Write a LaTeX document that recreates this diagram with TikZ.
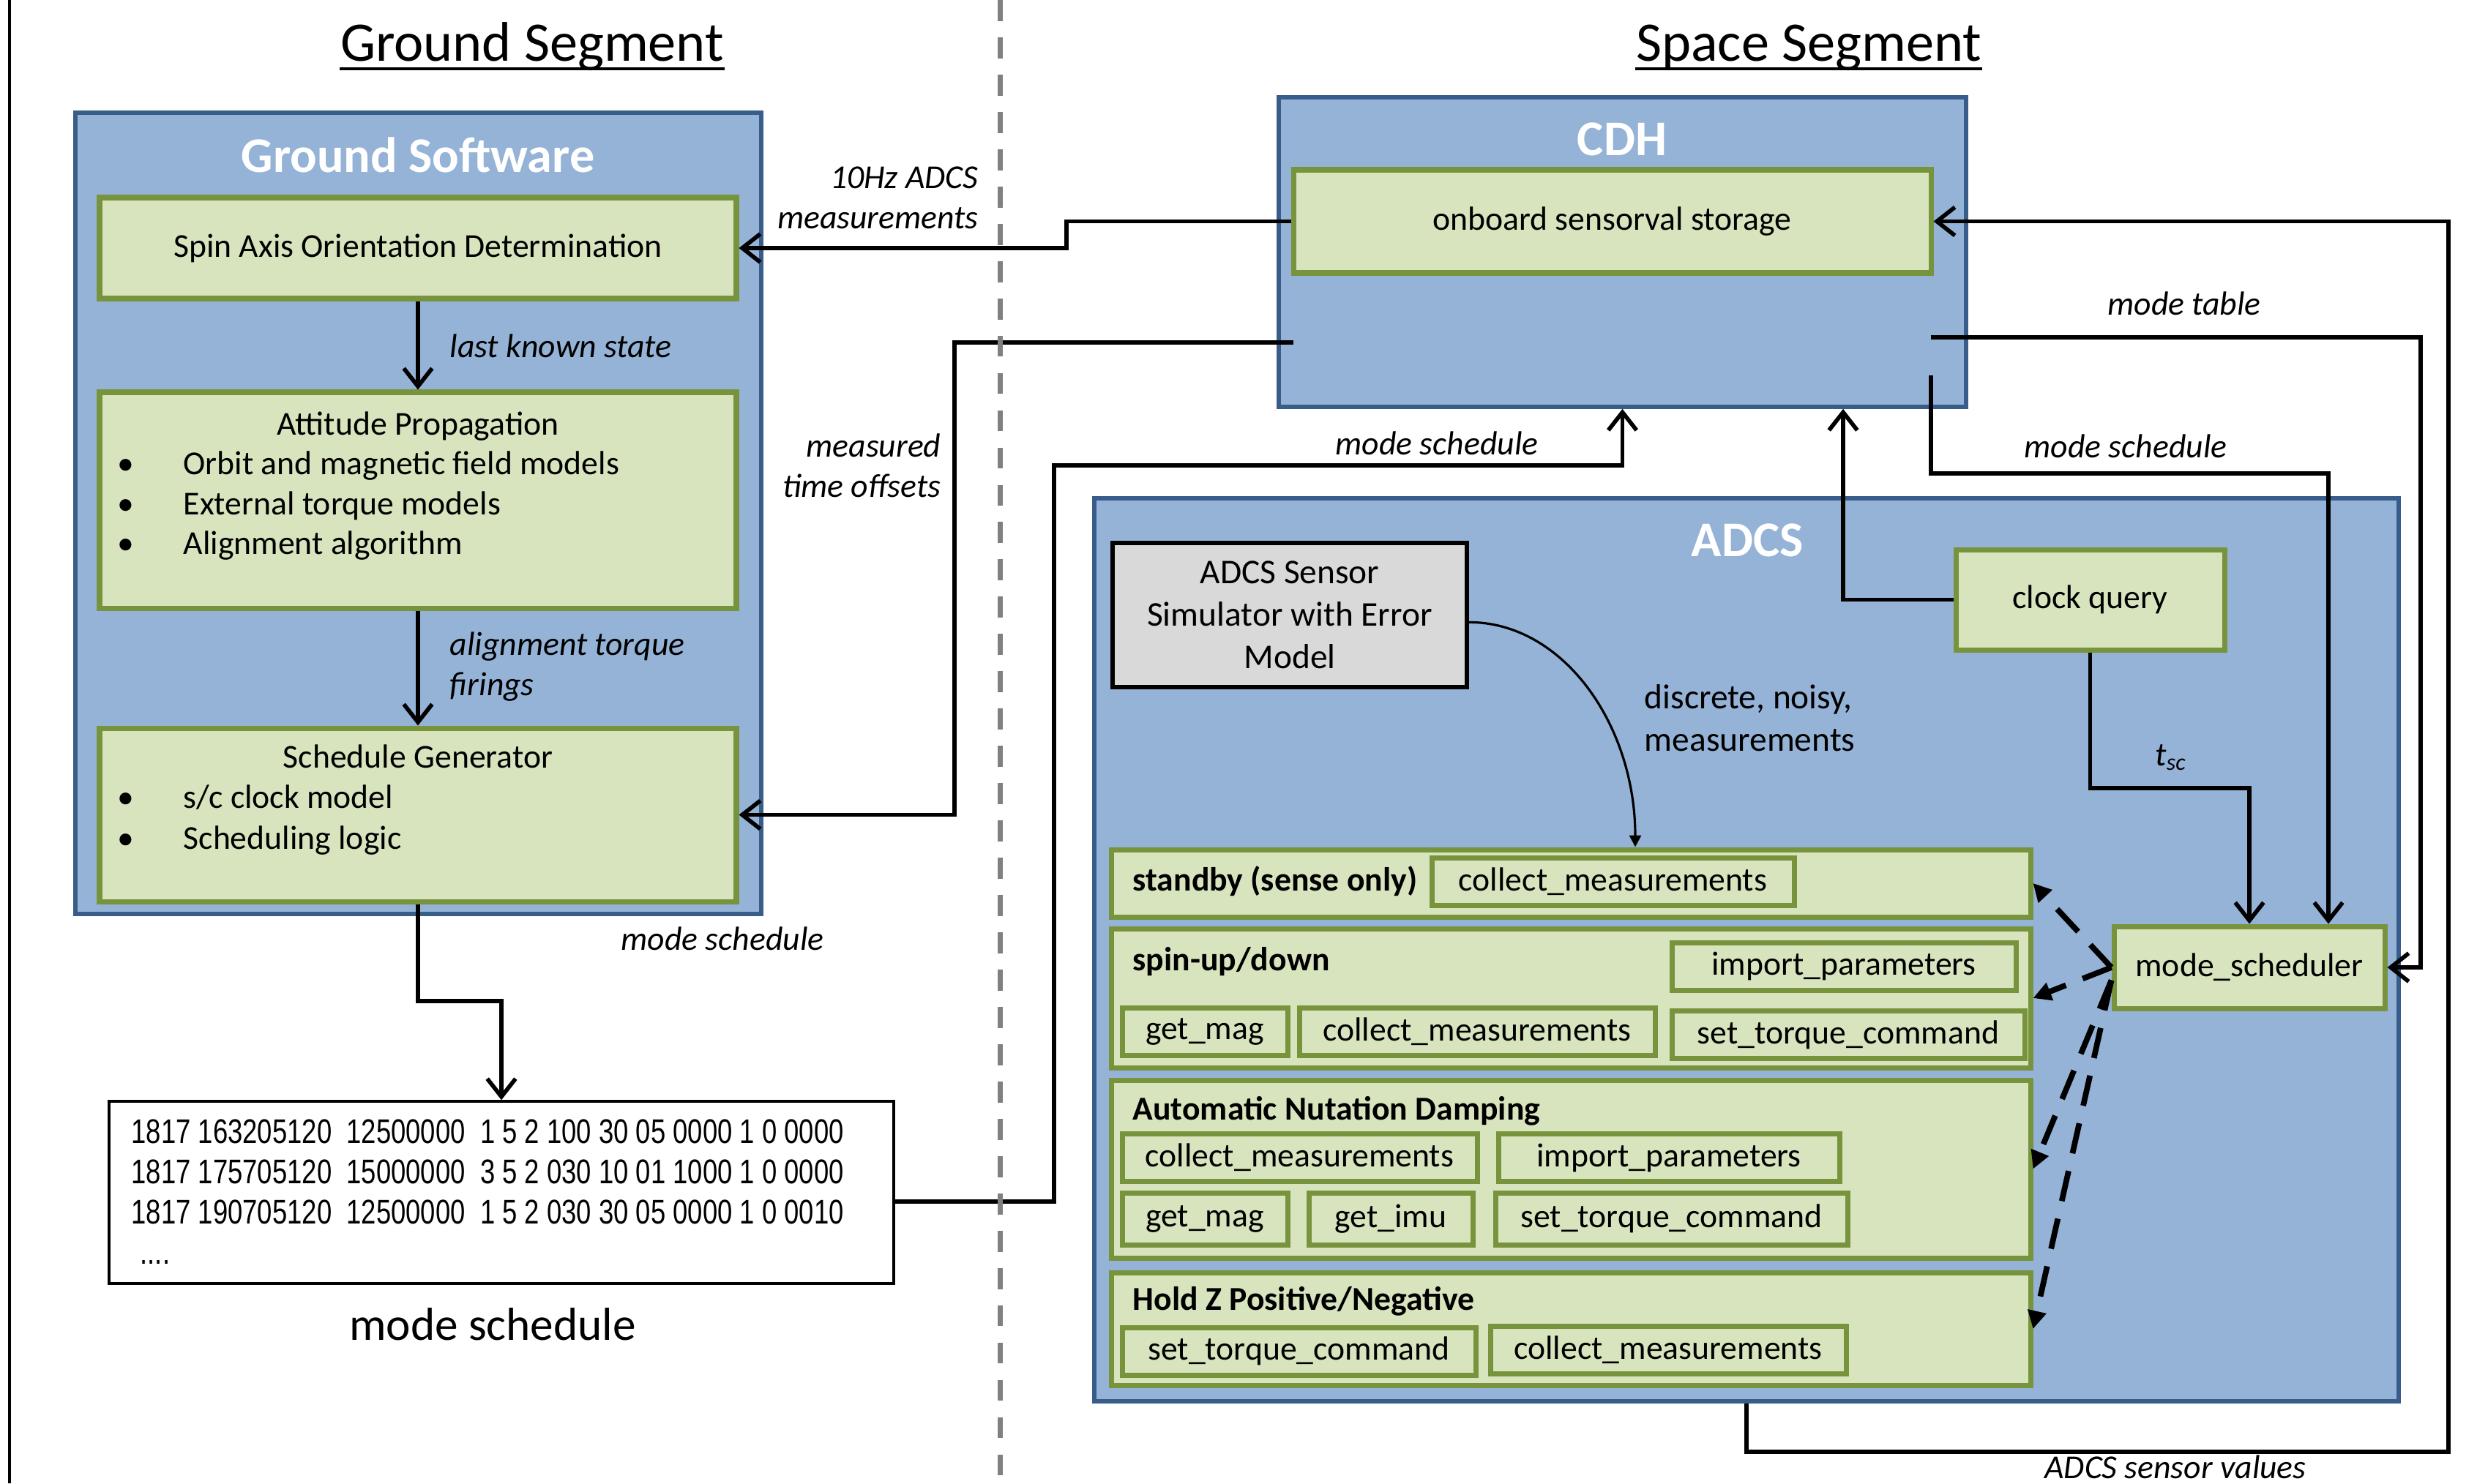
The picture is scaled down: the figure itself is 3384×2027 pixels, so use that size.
\documentclass[tikz,border=0pt]{standalone}
\usepackage{fontspec}
\setmainfont{Carlito}
\newfontfamily\tablefont[FakeStretch=0.78]{Liberation Sans}
\usetikzlibrary{arrows.meta}

\definecolor{boxblue}{HTML}{95B3D7}
\definecolor{edgeblue}{HTML}{385D8A}
\definecolor{boxgreen}{HTML}{D7E4BD}
\definecolor{edgegreen}{HTML}{77933C}
\definecolor{boxgrey}{HTML}{D9D9D9}
\definecolor{divgrey}{HTML}{808080}

\begin{document}
\begin{tikzpicture}[x=0.1mm,y=-0.1mm]
      % Define styles for nodes
      \tikzstyle{bluebox} = [draw=edgeblue, fill=boxblue, line width=1.6pt,
      rectangle, inner sep=0pt]
      \tikzstyle{greenbox} = [draw=edgegreen, fill=boxgreen, line width=2pt,
      rectangle, inner sep=0pt, font=\fontsize{13}{15.6}\selectfont]
      \tikzstyle{funcbox} = [greenbox, minimum height=6.5mm]
      \tikzstyle{boxtitle} = [inner sep=0pt, text=white,
      font=\fontsize{19.4}{23}\selectfont\bfseries]
      \tikzstyle{segtitle} = [inner sep=0pt, anchor=base,
      font=\fontsize{21.7}{26}\selectfont]
      \tikzstyle{txt} = [inner sep=0pt, font=\fontsize{13}{15.6}\selectfont]
      \tikzstyle{modename} = [inner sep=0pt, anchor=west,
      font=\fontsize{13}{15.6}\selectfont\bfseries]
      \tikzstyle{flowlabel} = [inner sep=0pt, font=\fontsize{13}{15.6}\selectfont\itshape]
      \tikzstyle{tabrow} = [inner sep=0pt, anchor=base west,
      font=\tablefont\fontsize{13.3}{16}\selectfont]
      \tikzstyle{conn} = [line width=1.6pt, -{Straight Barb[length=7pt,width=11pt]}]
      \tikzstyle{modearrow} = [line width=2.2pt, dash pattern=on 12pt off 7pt,
      -{Triangle[length=7pt,width=7pt]}]

      \useasboundingbox (0,0) rectangle (3384,2027);
      \fill[white] (0,0) rectangle (3384,2027);
      \draw[line width=1pt] (13,0) -- (13,2027);

      % Segment headings
      \node[segtitle] (gseg) at (727,83) {Ground Segment};
      \node[segtitle] (sseg) at (2471,83) {Space Segment};
      \draw[line width=1.2pt] ([yshift=-3.1pt]gseg.base west) -- ([yshift=-3.1pt]gseg.base east);
      \draw[line width=1.2pt] ([yshift=-3.1pt]sseg.base west) -- ([yshift=-3.1pt]sseg.base east);

      % Subsystem boxes
      \node[bluebox, minimum width=93.7mm, minimum height=109.5mm] (gsw) at (571.5,701.5) {};
      \node[boxtitle] (gswtitle) at (571,212) {Ground Software};
      \node[bluebox, minimum width=93.9mm, minimum height=42.3mm] (cdh) at (2216.5,344.5) {};
      \node[boxtitle] (cdhtitle) at (2216,190) {CDH};
      \node[bluebox, minimum width=178.2mm, minimum height=123.4mm] (adcs) at (2386,1298) {};
      \node[boxtitle] (adcstitle) at (2387,738) {ADCS};

      % Ground software blocks
      \node[greenbox, minimum width=87mm, minimum height=13.8mm] (spin) at (571,339)
      {Spin Axis Orientation Determination};
      \node[greenbox, minimum width=87mm, minimum height=29.5mm] (attprop) at (571,683.5) {};
      \node[greenbox, minimum width=87mm, minimum height=23.7mm] (schedgen) at (571,1113.5) {};

      \node[txt, anchor=base] (aphead) at (571,594) {Attitude Propagation};
      \foreach \entry [count=\i] in {Orbit and magnetic field models,
        External torque models, Alignment algorithm} {
        \node[txt, anchor=base] (apdot\i) at (172,594+54.5*\i) {\textbullet};
        \node[txt, anchor=base west] (apitem\i) at (250,594+54.5*\i) {\entry};
      }
      \node[txt, anchor=base] (sghead) at (571,1049) {Schedule Generator};
      \foreach \entry [count=\i] in {s/c clock model, Scheduling logic} {
        \node[txt, anchor=base] (sgdot\i) at (172,1049+55.5*\i) {\textbullet};
        \node[txt, anchor=base west] (sgitem\i) at (250,1049+55.5*\i) {\entry};
      }

      % Mode schedule file
      \node[draw, line width=1pt, fill=white, inner sep=0pt, minimum width=107.2mm,
      minimum height=24.9mm] (schedtab) at (685,1629.5) {};
      \foreach \row [count=\i] in {1817 163205120~~12500000~~1 5 2 100 30 05 0000 1 0 0000,
        1817 175705120~~15000000~~3 5 2 030 10 01 1000 1 0 0000,
        1817 190705120~~12500000~~1 5 2 030 30 05 0000 1 0 0010}
        \node[tabrow] (row\i) at (179,1507+55*\i) {\row};
      \node[tabrow] (row4) at (191,1727) {....};
      \node[txt, font=\fontsize{18}{22}\selectfont] (tabcap) at (673,1810) {mode schedule};

      % CDH storage
      \node[greenbox, minimum width=87.1mm, minimum height=14.1mm] (storage) at (2202.5,302.5)
      {onboard sensorval storage};

      % ADCS blocks
      \node[draw, line width=1.5pt, fill=boxgrey, inner sep=0pt, minimum width=48.4mm,
      minimum height=19.7mm, align=center, font=\fontsize{13.5}{16.5}\selectfont] (sim)
      at (1762,840.5) {ADCS Sensor\\Simulator with Error\\Model};
      \node[greenbox, minimum width=36.7mm, minimum height=13.7mm] (clockq) at (2855.5,819.5) {clock query};
      \node[greenbox, minimum width=37mm, minimum height=11.2mm] (ms) at (3073,1322) {mode\_scheduler};

      % Modes
      \node[greenbox, minimum width=125.6mm, minimum height=9.2mm] (standby) at (2146,1207) {};
      \node[greenbox, minimum width=125.6mm, minimum height=19mm] (spinup) at (2146,1364) {};
      \node[greenbox, minimum width=125.6mm, minimum height=24.3mm] (nutdamp) at (2146,1597.5) {};
      \node[greenbox, minimum width=125.6mm, minimum height=15.4mm] (holdz) at (2146,1816) {};
      \node[modename] (standbyname) at (1547,1204) {standby (sense only)};
      \node[modename] (spinupname) at (1547,1314) {spin-up/down};
      \node[modename] (nutdampname) at (1547,1518) {Automatic Nutation Damping};
      \node[modename] (holdzname) at (1547,1778) {Hold Z Positive/Negative};

      % Functions called in each mode
      \node[funcbox, minimum width=49.5mm] (sbcollect) at (2203.5,1204.5) {collect\_measurements};
      \node[funcbox, minimum width=47mm] (suimport) at (2519,1320.5) {import\_parameters};
      \node[funcbox, minimum width=22.6mm] (sumag) at (1646,1409.5) {get\_mag};
      \node[funcbox, minimum width=48.6mm] (sucollect) at (2018,1409.5) {collect\_measurements};
      \node[funcbox, minimum width=48.2mm] (sutorque) at (2525,1414) {set\_torque\_command};
      \node[funcbox, minimum width=48.5mm] (ndcollect) at (1775.5,1582) {collect\_measurements};
      \node[funcbox, minimum width=46.6mm] (ndimport) at (2280,1582) {import\_parameters};
      \node[funcbox, minimum width=22.6mm, minimum height=7.1mm] (ndmag) at (1646,1665.5) {get\_mag};
      \node[funcbox, minimum width=22.4mm, minimum height=7.1mm] (ndimu) at (1900,1665.5) {get\_imu};
      \node[funcbox, minimum width=48.1mm, minimum height=7.1mm] (ndtorque) at (2283.5,1665.5) {set\_torque\_command};
      \node[funcbox, minimum width=48.3mm] (hztorque) at (1774.5,1846.5) {set\_torque\_command};
      \node[funcbox, minimum width=48.6mm] (hzcollect) at (2279,1844.5) {collect\_measurements};

      % Connections inside ground software
      \draw[conn] (spin.south) -- (attprop.north);
      \node[flowlabel, anchor=west] (lastlbl) at (614,473) {last known state};
      \draw[conn] (attprop.south) -- (schedgen.north);
      \node[flowlabel, anchor=west, align=left] (firelbl) at (614,911) {alignment torque\\firings};
      \draw[conn] (schedgen.south) -- (571,1368) -| (schedtab.north);
      \node[flowlabel] (genlbl) at (987,1283) {mode schedule};

      % Connections between segments
      \draw[conn] (storage.west) -- (1457,302.5) |- (spin.east);
      \node[flowlabel, anchor=east, align=right] (measlbl) at (1337,270) {10Hz ADCS\\measurements};
      \coordinate (tsout) at (1767,468);
      \draw[conn] (tsout) -- (1304,468) |- (schedgen.east);
      \node[flowlabel, anchor=east, align=right] (offlbl) at (1286,636) {measured\\time offsets};
      \draw[conn] ([yshift=-3.6pt]schedtab.east) -| (1440,636) -| (cdh.south);
      \node[flowlabel] (uplbl) at (1963,606) {mode schedule};

      % Connections in the space segment
      \draw[conn] (clockq.west) -| (2518,0 |- cdh.south);
      \coordinate (mtout) at (2638,461);
      \draw[conn] (mtout) -- (3307,461) |- (ms.east);
      \node[flowlabel] (tablelbl) at (2984,415) {mode table};
      \coordinate (msout) at (2638,513);
      \draw[conn] (msout) |- (3181,647) -- (3181,0 |- ms.north);
      \node[flowlabel] (downlbl) at (2904,610) {mode schedule};
      \draw[conn] (clockq.south) |- (3073,1077) -- (ms.north);
      \node[flowlabel] (tsclbl) at (2966,1035) {t\textsubscript{sc}};
      \draw[conn] (adcs.south) |- (3345,1984) |- (storage.east);
      \node[flowlabel] (senslbl) at (2972,2005) {ADCS sensor values};

      % Simulated sensor data
      \draw[line width=0.9pt, -{Triangle[length=4.5pt,width=4.5pt]}] ([yshift=-2.8pt]sim.east)
      .. controls (2135,850) and (2234,990) .. (2234,0 |- standby.north);
      \node[txt, anchor=west, align=left, font=\fontsize{13.5}{16.5}\selectfont] (simlbl)
      at (2246,981) {discrete, noisy,\\measurements};

      % Mode switching
      \draw[modearrow] (ms.west) -- (standby.east);
      \draw[modearrow] (ms.west) -- (spinup.east);
      \draw[modearrow] ([yshift=-5pt]ms.west) -- (nutdamp.east);
      \draw[modearrow] ([yshift=-5pt]ms.west) -- (holdz.east);

      % Divider between segments
      \draw[divgrey, line width=2pt, dash pattern=on 8.2pt off 6.3pt] (1366,0) -- (1366,2027);
\end{tikzpicture}
\end{document}
